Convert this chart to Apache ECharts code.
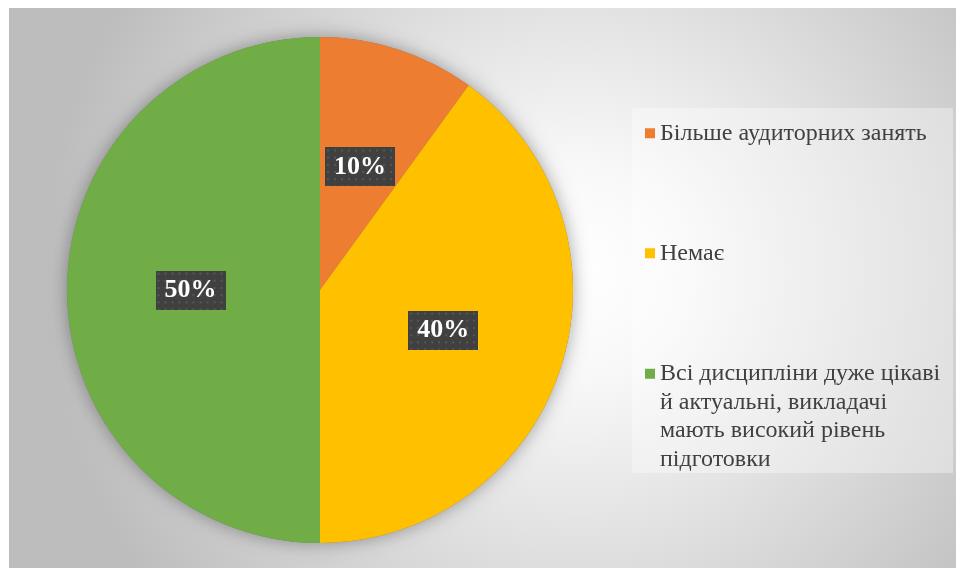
<!DOCTYPE html>
<html>
<head>
<meta charset="utf-8">
<script src="https://cdn.jsdelivr.net/npm/echarts@6/dist/echarts.min.js"></script>
<style>
html,body{margin:0;padding:0;background:#fff;}
#c{width:956px;height:568px;}
</style>
</head>
<body>
<div id="c"></div>
<script>
const categories = ['Більше аудиторних занять', 'Немає', 'Всі дисципліни дуже цікаві й актуальні, викладачі мають високий рівень підготовки'];
const values = [10, 40, 50];
const colors = ['#ED7D31', '#FFC000', '#70AD47'];
const legendText = {
  'Більше аудиторних занять': 'Більше аудиторних занять',
  'Немає': 'Немає',
  'Всі дисципліни дуже цікаві й актуальні, викладачі мають високий рівень підготовки':
    '\n\n\nВсі дисципліни дуже цікаві\nй актуальні, викладачі\nмають високий рівень\nпідготовки'
};

// dotted pattern for label boxes
function makePattern(w, h) {
  const cv = document.createElement('canvas');
  cv.width = w; cv.height = h;
  const ctx = cv.getContext('2d');
  ctx.fillStyle = '#404040';
  ctx.fillRect(0, 0, w, h);
  ctx.fillStyle = '#575757';
  for (let y = 2; y < h; y += 7) {
    for (let x = 2; x < w; x += 7) {
      ctx.fillRect(x, y, 2, 2);
    }
  }
  return cv;
}
const pattern = makePattern(70, 38);

const chart = echarts.init(document.getElementById('c'));
const data = categories.map((n, i) => ({ name: n, value: values[i], itemStyle: { color: colors[i] } }));
const legendBase = {
  orient: 'vertical',
  left: 645,
  padding: 0,
  itemWidth: 10,
  itemHeight: 10,
  icon: 'rect',
  selectedMode: false,
  formatter: n => legendText[n],
  textStyle: { fontFamily: 'Liberation Serif', fontSize: 24, color: '#404040', lineHeight: 28.5 }
};
chart.setOption({
  backgroundColor: '#ffffff',
  graphic: [
    {
      type: 'rect', z: -10, silent: true,
      shape: { x: 9, y: 8, width: 947, height: 560 },
      style: {
        fill: {
          type: 'radial', x: 0.6, y: 0.47, r: 0.95,
          colorStops: [{ offset: 0, color: '#ffffff' }, { offset: 0.2, color: '#f8f8f8' }, { offset: 1, color: '#bdbdbd' }]
        }
      }
    },
    {
      type: 'rect', z: -9, silent: true,
      shape: { x: 632, y: 108, width: 321, height: 365 },
      style: { fill: 'rgba(255,255,255,0.35)' }
    }
  ],
  legend: [
    Object.assign({}, legendBase, { top: 119, data: [categories[0]] }),
    Object.assign({}, legendBase, { top: 239, data: [categories[1]] }),
    Object.assign({}, legendBase, { top: 274, data: [categories[2]] })
  ],
  series: [
    {
      type: 'pie', z: 2, silent: true,
      center: [320, 290], radius: 253, startAngle: 90, clockwise: true,
      data: data,
      itemStyle: { borderWidth: 0 },
      label: {
        show: true, position: 'inside',
        formatter: p => p.value + '%',
        fontFamily: 'Liberation Serif', fontWeight: 'bold', fontSize: 26, color: '#ffffff',
        lineHeight: 28,
        backgroundColor: { image: pattern },
        padding: [6, 9, 5, 9],
        shadowBlur: 6, shadowColor: 'rgba(0,0,0,0.55)', shadowOffsetX: 3, shadowOffsetY: 3
      },
      labelLine: { show: false },
      emphasis: { disabled: true }
    },
    {
      type: 'pie', silent: true, z: 1,
      center: [320, 290], radius: 253, startAngle: 90, clockwise: true,
      label: { show: false }, labelLine: { show: false },
      itemStyle: { color: '#777', shadowBlur: 18, shadowColor: 'rgba(0,0,0,0.35)' },
      data: values.map((v, i) => ({ name: categories[i], value: v })),
      legendHoverLink: false
    }
  ]
});
</script>
</body>
</html>
